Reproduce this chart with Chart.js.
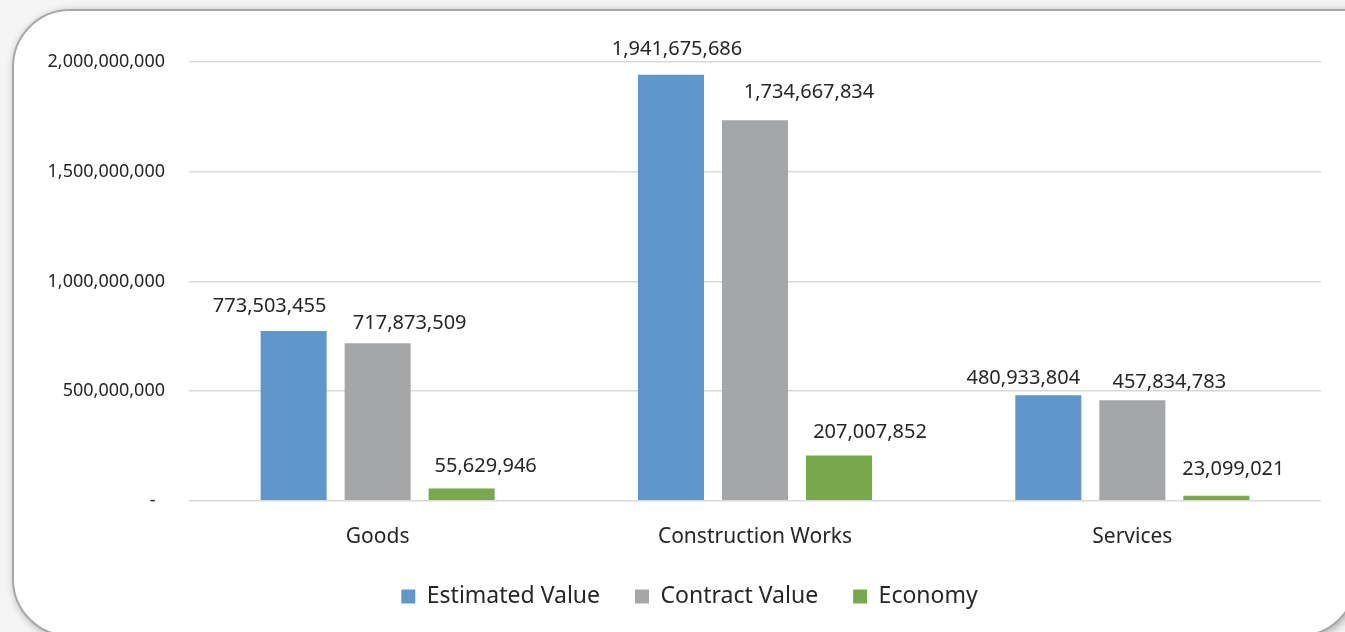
<!DOCTYPE html>
<html>
<head>
<meta charset="utf-8">
<script src="https://cdn.jsdelivr.net/npm/chart.js@4.4.1/dist/chart.umd.min.js"></script>
<style>
  html, body { margin: 0; padding: 0; width: 1345px; height: 632px; overflow: hidden; background: #f5f5f5; }
  #frame {
    position: absolute; left: 12px; top: 9px; width: 1345px; height: 628px;
    box-sizing: border-box; border: 2px solid #a8a8a8; border-radius: 58px;
    border-top-right-radius: 0;
    background: #fff; box-shadow: 2px 2px 8px rgba(0,0,0,0.3);
  }
  #crimeChart { position: absolute; left: 0; top: 0; }
</style>
</head>
<body>
<div id="frame"></div>
<canvas id="crimeChart" width="1345" height="632"></canvas>
<script>
// data
const categories = ['Goods', 'Construction Works', 'Services'];
const estimatedValue = [773503455, 1941675686, 480933804];
const contractValue = [717873509, 1734667834, 457834783];
const economy = [55629946, 207007852, 23099021];
const yTicks = [0, 500000000, 1000000000, 1500000000, 2000000000];

// where each value label sits relative to its bar top (dx, dy) - mimics the excel placement
const estShift = [[-24, 25], [6, 25], [-25, 17]];
const contractShift = [[32, 20], [54, 28], [37, 18]];
const economyShift = [[24, 22], [31, 23], [17, 26]];

const FONT = '"Noto Sans", sans-serif';
const fmt = v => v.toLocaleString('en-US');

// draws the number above each bar
const valueLabels = {
  id: 'valueLabels',
  afterDatasetsDraw(chart) {
    const ctx = chart.ctx;
    ctx.save();
    ctx.font = '20px ' + FONT;
    ctx.fillStyle = '#262626';
    ctx.textAlign = 'center';
    ctx.textBaseline = 'middle';
    chart.data.datasets.forEach((ds, i) => {
      chart.getDatasetMeta(i).data.forEach((bar, j) => {
        const [dx, dy] = ds.labelShift[j];
        ctx.fillText(fmt(ds.data[j]), bar.x + dx, bar.y - dy);
      });
    });
    ctx.restore();
  }
};

// excel centres the legend a bit right of the canvas middle
const legendNudge = {
  id: 'legendNudge',
  afterLayout(chart) {
    chart.legend.left += 14;
    chart.legend.right += 14;
  }
};

const ctx = document.getElementById('crimeChart').getContext('2d');
const chart = new Chart(ctx, {
  type: 'bar',
  data: {
    labels: categories,
    datasets: [
      { label: 'Estimated Value', data: estimatedValue, backgroundColor: '#6097cb', labelShift: estShift },
      { label: 'Contract Value', data: contractValue, backgroundColor: '#a5a6a8', labelShift: contractShift },
      { label: 'Economy', data: economy, backgroundColor: '#77a84c', labelShift: economyShift },
    ],
  },
  options: {
    responsive: false,
    animation: false,
    categoryPercentage: 0.668,
    barPercentage: 0.786,
    layout: { padding: { left: 30, right: 24, top: 62, bottom: 14 } },
    scales: {
      x: {
        grid: { display: false },
        border: { display: false },
        ticks: { font: { family: FONT, size: 21 }, color: '#262626', padding: 16 },
        afterFit: axis => { axis.height = axis.height - 16; },
      },
      y: {
        min: 0,
        max: 2000000000,
        afterBuildTicks: axis => { axis.ticks = yTicks.map(v => ({ value: v })); },
        afterFit: axis => { axis.width = 159; },
        grid: { color: '#d9d9d9', lineWidth: 1.5, drawTicks: false },
        border: { display: false },
        ticks: {
          font: { family: FONT, size: 18 },
          color: '#262626',
          padding: 24,
          callback: v => v === 0 ? '-  ' : fmt(v),
        },
      },
    },
    plugins: {
      tooltip: { enabled: false },
      legend: {
        position: 'bottom',
        labels: {
          font: { family: FONT, size: 23 },
          color: '#262626',
          boxWidth: 14,
          boxHeight: 14,
          padding: 35,
        },
      },
    },
  },
  plugins: [valueLabels, legendNudge],
});
</script>
</body>
</html>
